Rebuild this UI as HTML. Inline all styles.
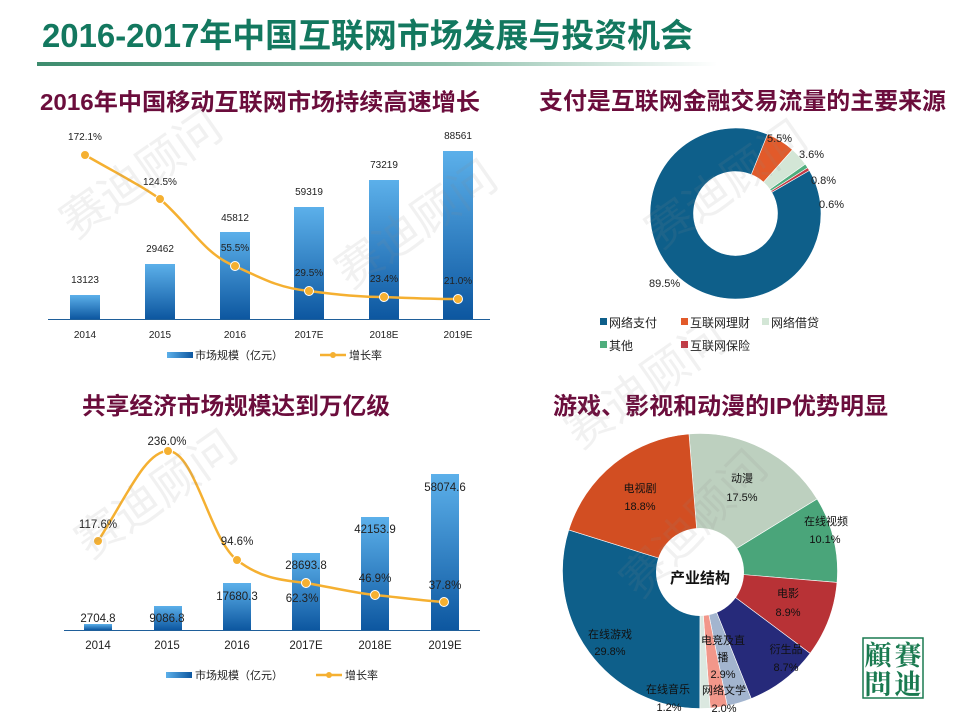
<!DOCTYPE html>
<html><head><meta charset="utf-8"><style>
html,body{margin:0;padding:0;background:#fff;}
body{width:960px;height:720px;overflow:hidden;position:relative;font-family:"Liberation Sans","Noto Sans CJK SC",sans-serif;}
svg{position:absolute;left:0;top:0;}
</style></head><body>
<svg id="s" width="960" height="720" viewBox="0 0 960 720" font-family="'Liberation Sans','Noto Sans CJK SC',sans-serif">
<defs>
<linearGradient id="bar" x1="0" y1="0" x2="0" y2="1"><stop offset="0" stop-color="#5cb0ea"/><stop offset="1" stop-color="#0d57a0"/></linearGradient>
<linearGradient id="bar2" x1="0" y1="0" x2="1" y2="0"><stop offset="0" stop-color="#5cb0ea"/><stop offset="1" stop-color="#0d57a0"/></linearGradient>
<linearGradient id="ul" x1="0" y1="0" x2="1" y2="0"><stop offset="0" stop-color="#3d8c6e"/><stop offset="0.6" stop-color="#8fc0ac"/><stop offset="1" stop-color="#fff"/></linearGradient>
</defs>
<text x="42" y="47" font-size="33" font-weight="bold" fill="#13785f" textLength="651" lengthAdjust="spacingAndGlyphs">2016-2017年中国互联网市场发展与投资机会</text>
<rect x="37" y="62" width="680" height="4" fill="url(#ul)"/>
<g font-size="23.5" font-weight="bold" fill="#6b0d3c">
<text x="40" y="110" textLength="440" lengthAdjust="spacingAndGlyphs">2016年中国移动互联网市场持续高速增长</text>
<text x="539" y="109" textLength="407" lengthAdjust="spacingAndGlyphs">支付是互联网金融交易流量的主要来源</text>
<text x="82" y="414" textLength="308" lengthAdjust="spacingAndGlyphs">共享经济市场规模达到万亿级</text>
<text x="553" y="414" textLength="335" lengthAdjust="spacingAndGlyphs">游戏、影视和动漫的IP优势明显</text>
</g>
<g>
<rect x="70" y="295" width="30" height="24" fill="url(#bar)"/>
<rect x="145" y="264" width="30" height="55" fill="url(#bar)"/>
<rect x="220" y="232" width="30" height="87" fill="url(#bar)"/>
<rect x="294" y="207" width="30" height="112" fill="url(#bar)"/>
<rect x="369" y="180" width="30" height="139" fill="url(#bar)"/>
<rect x="443" y="151" width="30" height="168" fill="url(#bar)"/>
<line x1="48" y1="319.5" x2="490" y2="319.5" stroke="#1f5f9a" stroke-width="1"/>
<path d="M85,155 C120,175 140,185 160,199 C190,225 205,255 235,266 C265,280 280,288 309,291 C340,295 360,297 384,297 C410,298 430,299 458,299" fill="none" stroke="#f5b031" stroke-width="2.5"/>
<g fill="#f5b031" stroke="#fff" stroke-width="1"><circle cx="85" cy="155" r="4.5"/><circle cx="160" cy="199" r="4.5"/><circle cx="235" cy="266" r="4.5"/><circle cx="309" cy="291" r="4.5"/><circle cx="384" cy="297" r="4.5"/><circle cx="458" cy="299" r="4.5"/></g>
<g font-size="10" fill="#222" text-anchor="middle">
<text x="85" y="283">13123</text><text x="160" y="252">29462</text><text x="235" y="221">45812</text><text x="309" y="195">59319</text><text x="384" y="168">73219</text><text x="458" y="139">88561</text>
<text x="85" y="140">172.1%</text><text x="160" y="185">124.5%</text><text x="235" y="251">55.5%</text><text x="309" y="276">29.5%</text><text x="384" y="282">23.4%</text><text x="458" y="284">21.0%</text>
<text x="85" y="338">2014</text><text x="160" y="338">2015</text><text x="235" y="338">2016</text><text x="309" y="338">2017E</text><text x="384" y="338">2018E</text><text x="458" y="338">2019E</text>
</g>
<rect x="167" y="352" width="26" height="6" fill="url(#bar2)"/>
<text x="195" y="359" font-size="11" fill="#222">市场规模（亿元）</text>
<line x1="320" y1="355" x2="346" y2="355" stroke="#f5b031" stroke-width="2.5"/><circle cx="333" cy="355" r="3" fill="#f5b031"/>
<text x="349" y="359" font-size="11" fill="#222">增长率</text>
</g>
<g>
<rect x="84" y="624" width="28" height="6" fill="url(#bar)"/>
<rect x="154" y="606" width="28" height="24" fill="url(#bar)"/>
<rect x="223" y="583" width="28" height="47" fill="url(#bar)"/>
<rect x="292" y="553" width="28" height="77" fill="url(#bar)"/>
<rect x="361" y="517" width="28" height="113" fill="url(#bar)"/>
<rect x="431" y="474" width="28" height="156" fill="url(#bar)"/>
<line x1="64" y1="630.5" x2="480" y2="630.5" stroke="#1f5f9a" stroke-width="1"/>
<path d="M98,541 C125,500 145,451 168,451 C195,451 210,540 237,560 C260,578 280,580 306,583 C335,588 355,593 375,595 C405,598 425,601 444,602" fill="none" stroke="#f5b031" stroke-width="2.5"/>
<g fill="#f5b031" stroke="#fff" stroke-width="1"><circle cx="98" cy="541" r="4.5"/><circle cx="168" cy="451" r="4.5"/><circle cx="237" cy="560" r="4.5"/><circle cx="306" cy="583" r="4.5"/><circle cx="375" cy="595" r="4.5"/><circle cx="444" cy="602" r="4.5"/></g>
<g font-size="11.5" fill="#222" text-anchor="middle">
<text x="98" y="622">2704.8</text><text x="167" y="622">9086.8</text><text x="237" y="600">17680.3</text><text x="306" y="569">28693.8</text><text x="375" y="533">42153.9</text><text x="445" y="491">58074.6</text>
<text x="98" y="528">117.6%</text><text x="167" y="445">236.0%</text><text x="237" y="545">94.6%</text><text x="302" y="602">62.3%</text><text x="375" y="582">46.9%</text><text x="445" y="589">37.8%</text>
<text x="98" y="649">2014</text><text x="167" y="649">2015</text><text x="237" y="649">2016</text><text x="306" y="649">2017E</text><text x="375" y="649">2018E</text><text x="445" y="649">2019E</text>
</g>
<rect x="166" y="672" width="26" height="6" fill="url(#bar2)"/>
<text x="195" y="679" font-size="11" fill="#222">市场规模（亿元）</text>
<line x1="316" y1="675" x2="342" y2="675" stroke="#f5b031" stroke-width="2.5"/><circle cx="329" cy="675" r="3" fill="#f5b031"/>
<text x="345" y="679" font-size="11" fill="#222">增长率</text>
</g>
<g id="d1"></g>
<g font-size="11" fill="#222">
<text x="767" y="142">5.5%</text><text x="799" y="158">3.6%</text><text x="811" y="184">0.8%</text><text x="819" y="208">0.6%</text><text x="649" y="287">89.5%</text>
</g>
<g font-size="12" fill="#222">
<rect x="600" y="318" width="7" height="7" fill="#0e5f8a"/><text x="609" y="327">网络支付</text>
<rect x="681" y="318" width="7" height="7" fill="#e25a2a"/><text x="690" y="327">互联网理财</text>
<rect x="762" y="318" width="7" height="7" fill="#d3e6d6"/><text x="771" y="327">网络借贷</text>
<rect x="600" y="341" width="7" height="7" fill="#4fae7d"/><text x="609" y="350">其他</text>
<rect x="681" y="341" width="7" height="7" fill="#c23a45"/><text x="690" y="350">互联网保险</text>
</g>
<g id="d2"></g>
<circle cx="700" cy="572" r="44" fill="#fff"/>
<text x="700" y="583" font-size="15" font-weight="bold" text-anchor="middle" fill="#111">产业结构</text>
<g font-size="11" fill="#111" text-anchor="middle">
<text x="640" y="492">电视剧</text><text x="640" y="510">18.8%</text>
<text x="742" y="482">动漫</text><text x="742" y="501">17.5%</text>
<text x="826" y="525">在线视频</text><text x="825" y="543">10.1%</text>
<text x="788" y="597">电影</text><text x="788" y="616">8.9%</text>
<text x="786" y="653">衍生品</text><text x="786" y="671">8.7%</text>
<text x="723" y="644">电竞及直</text><text x="723" y="661">播</text><text x="723" y="678">2.9%</text>
<text x="668" y="693">在线音乐</text><text x="669" y="711">1.2%</text>
<text x="724" y="694">网络文学</text><text x="724" y="712">2.0%</text>
<text x="610" y="638">在线游戏</text><text x="610" y="655">29.8%</text>
</g>
<rect x="863" y="638" width="60" height="60" fill="none" stroke="#1a7a50" stroke-width="1.5"/>
<g font-family="'Noto Serif CJK SC','Noto Sans CJK SC',serif" font-size="27" font-weight="bold" fill="#1a7a50" text-anchor="middle">
<text x="908" y="665">賽</text><text x="908" y="694">迪</text><text x="878" y="665">顧</text><text x="878" y="694">問</text>
</g>
<g font-size="46" fill="#888" fill-opacity="0.12" font-family="'Noto Sans CJK SC',sans-serif">
<text transform="translate(75,240) rotate(-35)">赛迪顾问</text>
<text transform="translate(350,290) rotate(-35)">赛迪顾问</text>
<text transform="translate(660,250) rotate(-35)">赛迪顾问</text>
<text transform="translate(90,560) rotate(-35)">赛迪顾问</text>
<text transform="translate(580,450) rotate(-35)">赛迪顾问</text>
<text transform="translate(640,600) rotate(-45)">赛迪顾问</text>
</g>
</svg>
<script>
function arc(cx,cy,r,ri,a0,a1,col){
 var R=Math.PI/180,f=function(a,rr){return (cx+rr*Math.sin(a*R)).toFixed(2)+","+(cy-rr*Math.cos(a*R)).toFixed(2);};
 var p0=f(a0,r),p1=f(a1,r),large=(a1-a0)>180?1:0,d;
 if(ri>0){var q1=f(a1,ri),q0=f(a0,ri);
  d="M"+p0+" A"+r+" "+r+" 0 "+large+" 1 "+p1+" L"+q1+" A"+ri+" "+ri+" 0 "+large+" 0 "+q0+" Z";}
 else d="M"+cx+","+cy+" L"+p0+" A"+r+" "+r+" 0 "+large+" 1 "+p1+" Z";
 return '<path d="'+d+'" fill="'+col+'" stroke="#fff" stroke-width="0.6"/>';
}
function build(id,cx,cy,r,ri,start,data){
 var a=start,h="";
 data.forEach(function(d){var e=a+d[0]*3.6;h+=arc(cx,cy,r,ri,a,e,d[1]);a=e;});
 document.getElementById(id).innerHTML=h;
}
build("d1",735.5,213.5,85.5,42,22,[[5.5,"#e25a2a"],[3.6,"#d3e6d6"],[0.8,"#4fae7d"],[0.6,"#c23a45"],[89.5,"#0e5f8a"]]);
build("d2",700,571,137.5,0,-4.6,[[17.5,"#bdd0bf"],[10.1,"#4aa57a"],[8.9,"#b83236"],[8.7,"#262a7a"],[2.9,"#a3b5cf"],[2.0,"#f2978a"],[1.2,"#dbe8e0"],[29.8,"#0e5f8a"],[18.9,"#d24e22"]]);
</script>
</body></html>
